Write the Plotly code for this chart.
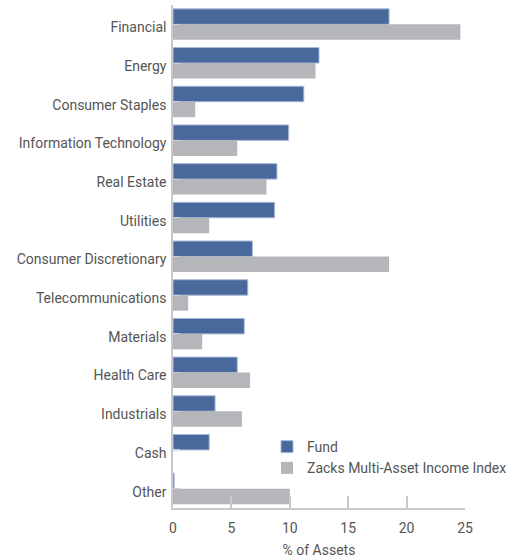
import plotly.graph_objects as go

sectors = [
    "Financial", "Energy", "Consumer Staples", "Information Technology",
    "Real Estate", "Utilities", "Consumer Discretionary", "Telecommunications",
    "Materials", "Health Care", "Industrials", "Cash", "Other",
]
fund = [18.5, 12.5, 11.2, 9.9, 8.9, 8.7, 6.8, 6.4, 6.1, 5.5, 3.6, 3.1, 0.1]
index = [24.6, 12.2, 1.9, 5.5, 8.0, 3.1, 18.5, 1.3, 2.5, 6.6, 5.9, 0.0, 10.0]
x_ticks = [0, 5, 10, 15, 20, 25]

BLUE = "#49699c"
GREY = "#b5b6ba"
AXIS = "#c8c8cc"
TEXT = "#555555"
FONT = "Roboto"

fig = go.Figure()
fig.add_trace(go.Bar(
    y=sectors, x=fund, orientation="h", name="Fund",
    marker=dict(color=BLUE, line=dict(color="#a9b9d6", width=1)),
))
fig.add_trace(go.Bar(
    y=sectors, x=index, orientation="h", name="Zacks Multi-Asset Income Index",
    marker=dict(color=GREY, line=dict(width=0)),
))

fig.update_layout(
    width=517, height=558,
    margin=dict(l=173, r=52, t=5, b=50, autoexpand=False),
    paper_bgcolor="white", plot_bgcolor="white",
    barmode="group", bargap=0.2, bargroupgap=0.0,
    font=dict(family=FONT, size=14, color=TEXT),
    showlegend=True,
    legend=dict(
        x=0.322, y=0.153, xanchor="left", yanchor="top",
        bgcolor="rgba(0,0,0,0)", font=dict(size=14, color=TEXT),
        tracegroupgap=0,
    ),
)
fig.update_xaxes(
    range=[0, 25], tickvals=x_ticks, ticktext=[str(t) for t in x_ticks],
    showgrid=False, zeroline=False,
    showline=True, linecolor=AXIS, linewidth=1.5,
    ticks="inside", ticklen=12, tickcolor=AXIS, tickwidth=1.5,
    tickfont=dict(size=14, color=TEXT), ticklabelstandoff=6,
    title=dict(text="% of Assets", font=dict(size=14, color=TEXT), standoff=14),
)
fig.update_yaxes(
    autorange="reversed", showgrid=False, zeroline=False,
    showline=True, linecolor=AXIS, linewidth=1.5,
    ticks="inside", ticklen=7, tickcolor="#d0d0d4", tickwidth=1,
    tickfont=dict(size=14, color=TEXT), ticklabelstandoff=2,
    ticklabelshift=-3,
)

fig.write_html("out.html")
